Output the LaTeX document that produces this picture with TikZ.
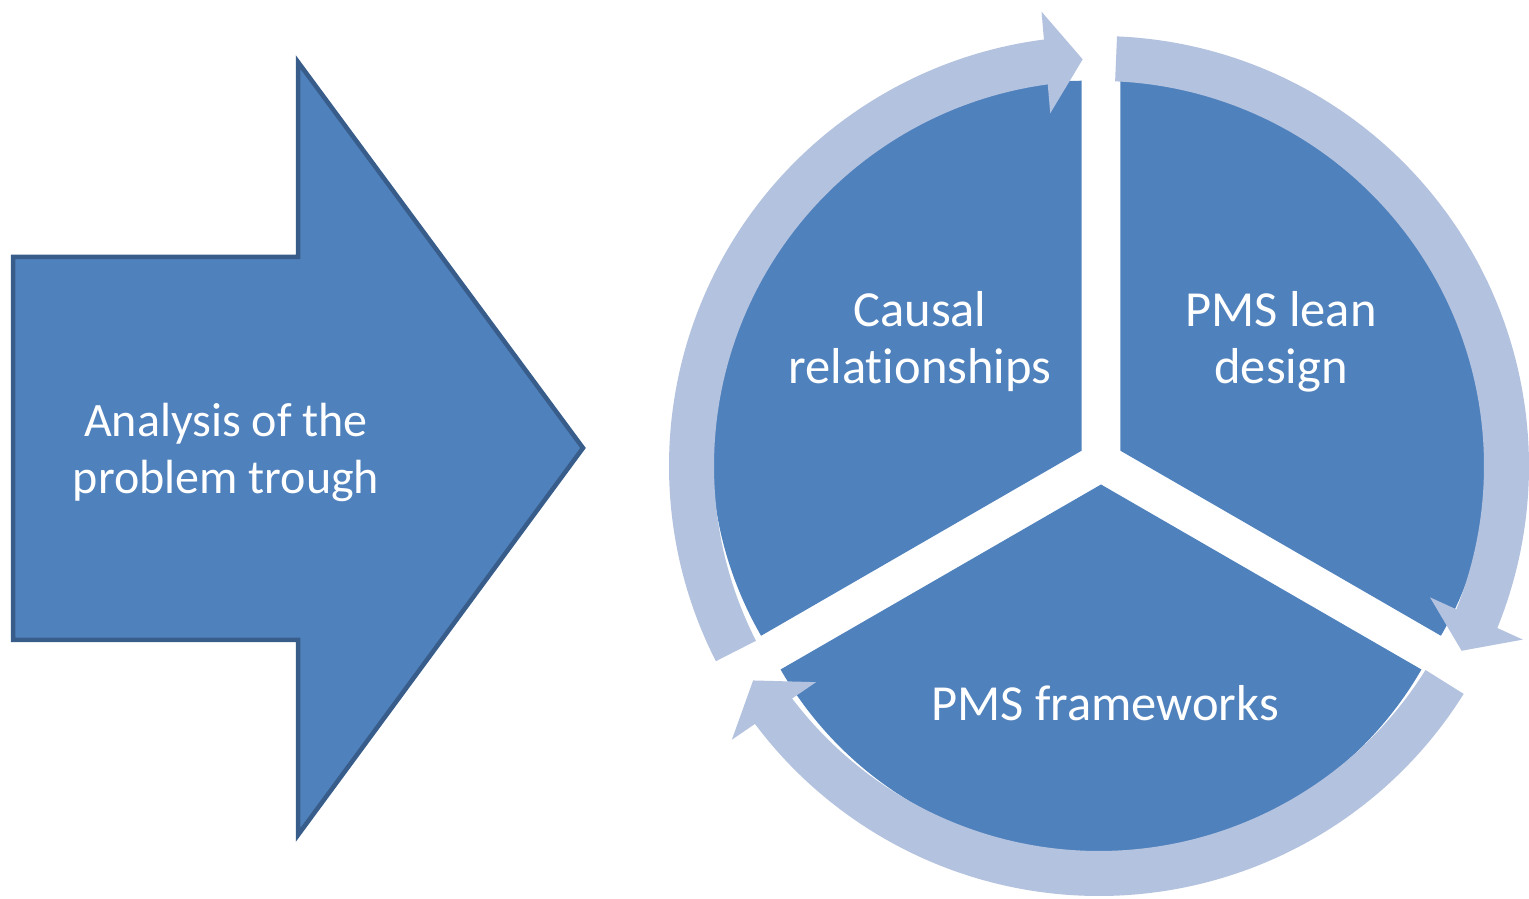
\documentclass[tikz,border=0pt]{standalone}
\usepackage{fontspec}
\setmainfont{Carlito}[Ligatures=NoCommon]
\usetikzlibrary{calc}
\definecolor{secblue}{HTML}{4F81BD}
\definecolor{bordblue}{HTML}{385D8A}
\definecolor{ringblue}{HTML}{B3C2DE}
\tikzset{
  sector/.style={fill=secblue},
  ringarc/.style={fill=ringblue},
  bigarrow/.style={fill=secblue, draw=bordblue, line width=4.5pt},
  lbl/.style={text=white, align=center, inner sep=0pt, font=\fontsize{50.5}{57}\selectfont},
  arrlbl/.style={lbl, font=\fontsize{48}{57}\selectfont}
}
\begin{document}
\begin{tikzpicture}[x=1pt,y=1pt]
\useasboundingbox (0,0) rectangle (1529,899);
% left big arrow
\draw[bigarrow] (13,642) -- (298,642) -- (298,837) -- (583,451) -- (298,64) -- (298,259) -- (13,259) -- cycle;
\node[arrlbl] (analysis) at (226,447) {Analysis of the\\problem trough};
% centres
\coordinate (C) at (1101,437);
\coordinate (O) at (1099,433);
% sectors
\coordinate (A1) at ($(C)+(150:22.5)$);
\coordinate (A2) at ($(C)+(30:22.5)$);
\coordinate (A3) at ($(C)+(270:22.5)$);
\fill[sector] (A1) -- ++(90:370) arc[start angle=90, end angle=210, radius=370] -- cycle;
\fill[sector] (A2) -- ++(-30:370) arc[start angle=-30, end angle=90, radius=370] -- cycle;
\fill[sector] (A3) -- ++(210:370) arc[start angle=210, end angle=330, radius=370] -- cycle;
% ring arrows
\foreach \a/\b/\t in {207/97.5/92.3, 87.6/-22/-27, -32/-143/-148.2}{
  \pgfmathsetmacro{\bb}{\b-1.5}
  \fill[ringarc] ($(O)+(\a:430)$) arc[start angle=\a, end angle=\bb, radius=430]
     -- ($(O)+(\bb:385)$) arc[start angle=\bb, end angle=\a, radius=385] -- cycle;
  \coordinate (B) at ($(O)+(\b:407)$);
  \coordinate (T) at ($(O)+(\t:407)$);
  \fill[ringarc] ($(B)!51pt!90:(T)$) -- (T) -- ($(B)!51pt!-90:(T)$) -- cycle;
}
\node[lbl] (causal) at (920,557) {Causal\\relationships};
\node[lbl] (lean) at (1281,557) {PMS lean\\design};
\node[lbl] (frame) at (1105,196) {PMS frameworks};
\end{tikzpicture}
\end{document}
